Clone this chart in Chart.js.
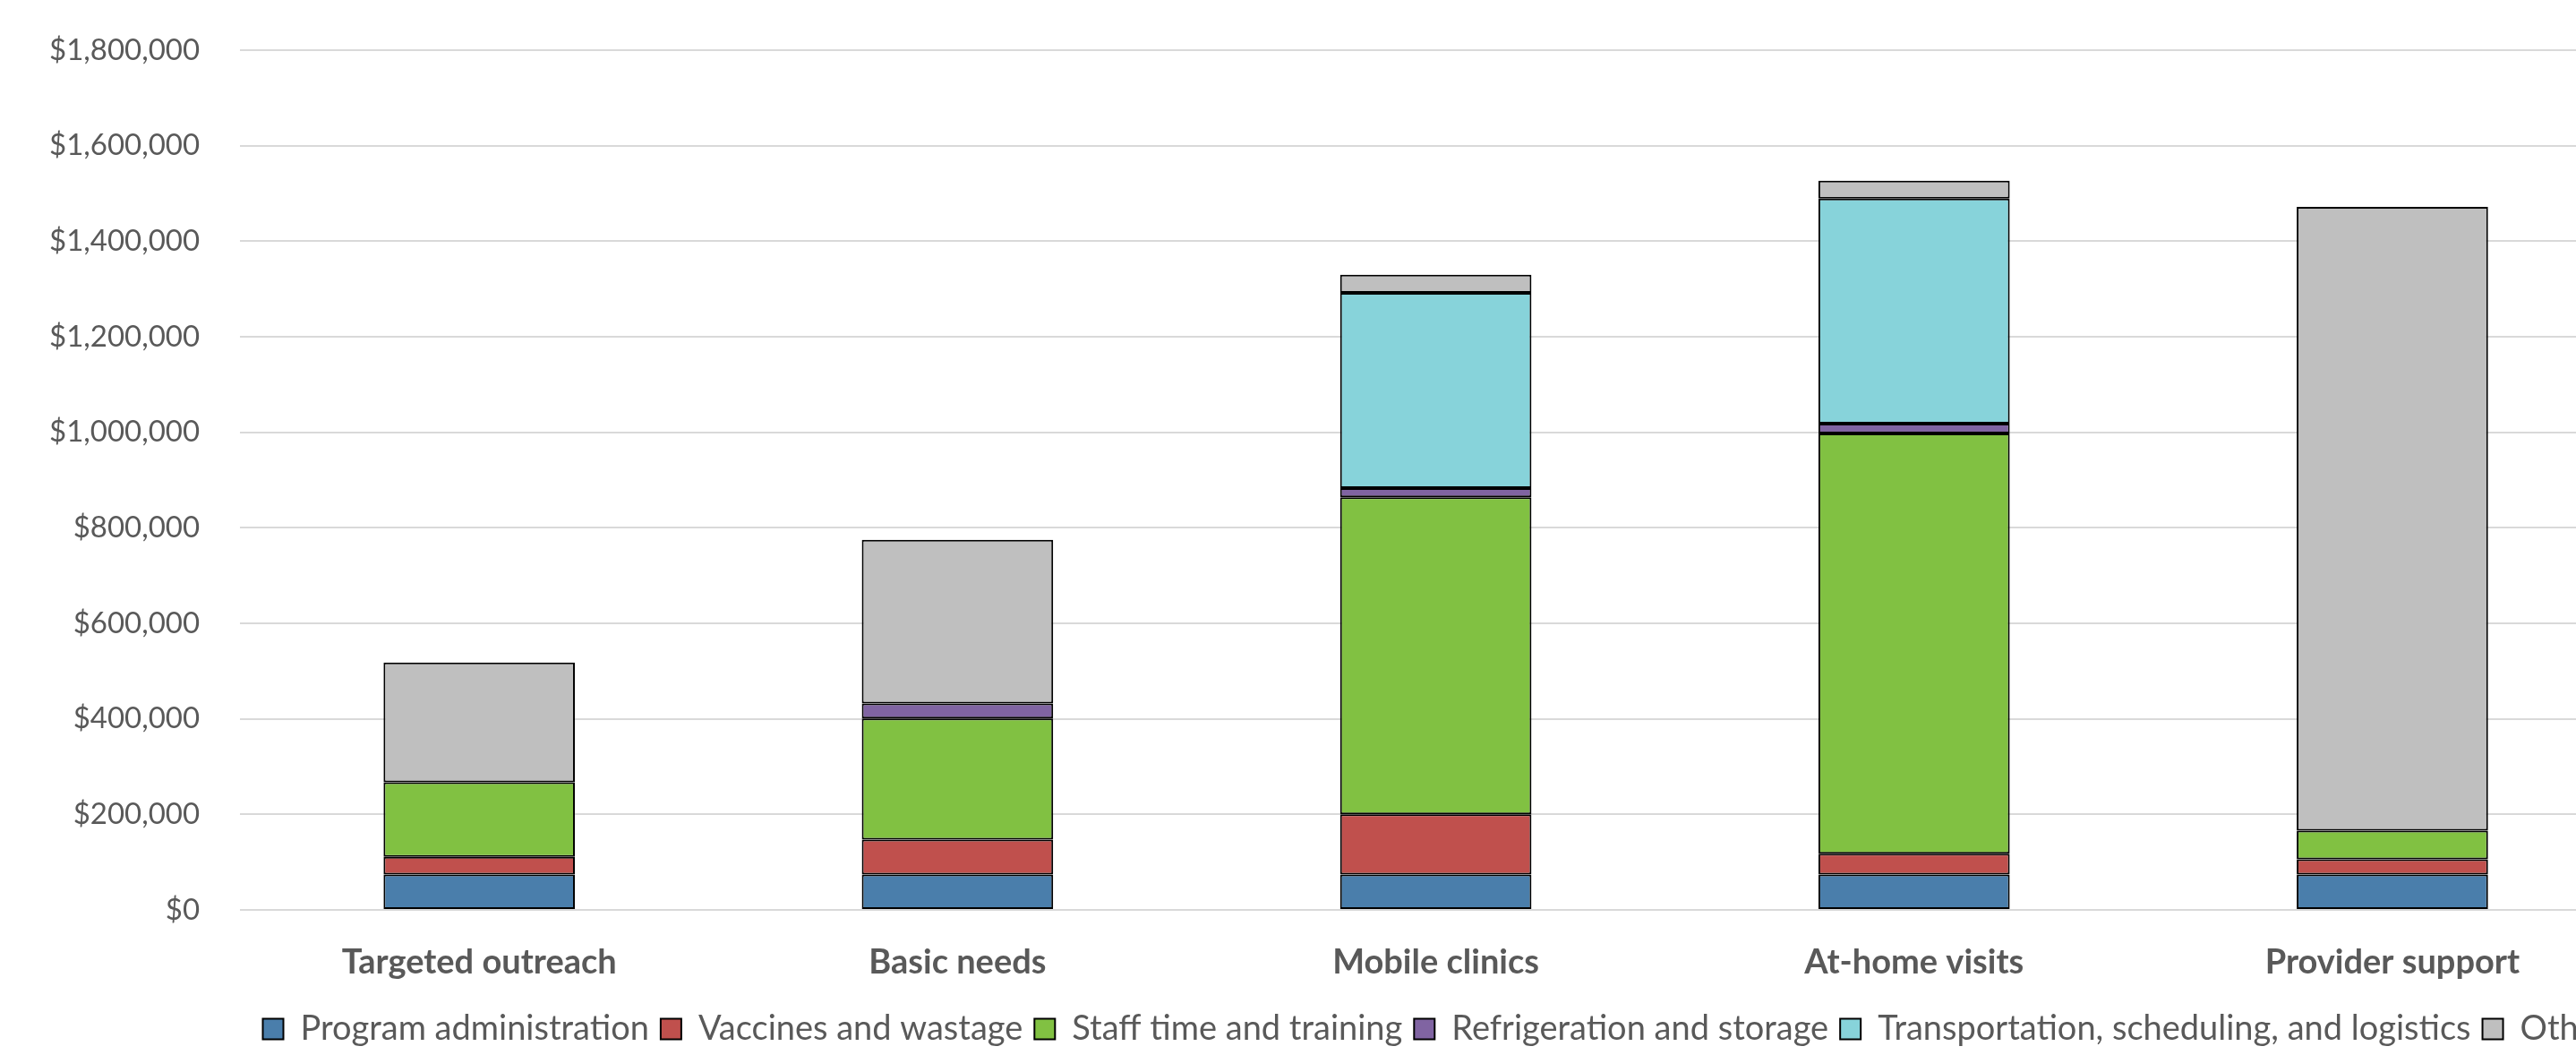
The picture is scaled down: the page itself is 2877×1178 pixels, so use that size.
<!DOCTYPE html>
<html>
<head>
<meta charset="utf-8">
<title>Vaccination program costs</title>
<script src="https://cdn.jsdelivr.net/npm/chart.js@4"></script>
<style>
    html, body { margin: 0; padding: 0; background: #ffffff; overflow: hidden; }
    #wrap { width: 2960px; height: 1178px; }
</style>
</head>
<body>
<div id="wrap"><canvas id="costChart" width="2960" height="1178"></canvas></div>
<script>
// Categories (program strategies)
const categories = ["Targeted outreach", "Basic needs", "Mobile clinics", "At-home visits", "Provider support"];

// Cost components, dollars
const programAdministration = [74000, 74000, 74000, 74000, 74000];
const vaccinesAndWastage = [37000, 73000, 126000, 43500, 32000];
const staffTimeAndTraining = [156000, 254000, 664000, 880000, 60000];
const refrigerationAndStorage = [0, 31000, 19000, 20500, 0];
const transportationLogistics = [0, 0, 409000, 471000, 0];
const other = [251000, 343000, 38000, 37500, 1306000];

const seriesNames = [
    "Program administration",
    "Vaccines and wastage",
    "Staff time and training",
    "Refrigeration and storage",
    "Transportation, scheduling, and logistics",
    "Other"
];
const seriesValues = [
    programAdministration,
    vaccinesAndWastage,
    staffTimeAndTraining,
    refrigerationAndStorage,
    transportationLogistics,
    other
];
const seriesColors = ["#4a7eab", "#c0504d", "#81c142", "#8064a2", "#87d3da", "#bfbfbf"];

// Y axis range
const yMax = 1800000;
const yStep = 200000;

const textColor = "#595959";
const fontFamily = "Lato, 'Open Sans', sans-serif";

// Center the legend under the plot area (like Excel does)
const centerLegendOnPlot = {
    id: "centerLegendOnPlot",
    afterLayout(chart) {
        const lg = chart.legend;
        const shift = (chart.chartArea.left + chart.chartArea.right) / 2 - (lg.left + lg.right) / 2;
        lg.left += shift;
        lg.right += shift;
    }
};

const datasets = seriesNames.map((name, i) => ({
    label: name,
    data: seriesValues[i],
    backgroundColor: seriesColors[i],
    borderColor: "#000000",
    borderWidth: 2,
    borderSkipped: false,
    barPercentage: 0.4,
    categoryPercentage: 1.0
}));

const ctx = document.getElementById("costChart").getContext("2d");
new Chart(ctx, {
    type: "bar",
    data: { labels: categories, datasets: datasets },
    plugins: [centerLegendOnPlot],
    options: {
        responsive: false,
        animation: false,
        layout: { padding: { top: 56, left: 50, right: 21, bottom: 0 } },
        plugins: {
            tooltip: { enabled: false },
            legend: {
                position: "bottom",
                labels: {
                    color: textColor,
                    font: { family: fontFamily, size: 38 },
                    boxWidth: 23,
                    boxHeight: 23,
                    padding: 13
                }
            }
        },
        scales: {
            x: {
                stacked: true,
                grid: { display: false },
                border: { display: false },
                ticks: {
                    color: textColor,
                    font: { family: fontFamily, size: 38, weight: "bold" },
                    padding: 28
                },
                afterFit(scale) {
                    scale.height = 101;
                }
            },
            y: {
                stacked: true,
                min: 0,
                max: yMax,
                border: { display: false },
                // invisible tick marks give the gap between labels and plot
                grid: { color: "#d9d9d9", lineWidth: 2, drawTicks: true, tickLength: 40, tickColor: "rgba(0,0,0,0)" },
                ticks: {
                    stepSize: yStep,
                    color: textColor,
                    font: { family: fontFamily, size: 33 },
                    padding: 5,
                    callback: value => "$" + value.toLocaleString("en-US")
                }
            }
        }
    }
});
</script>
</body>
</html>
